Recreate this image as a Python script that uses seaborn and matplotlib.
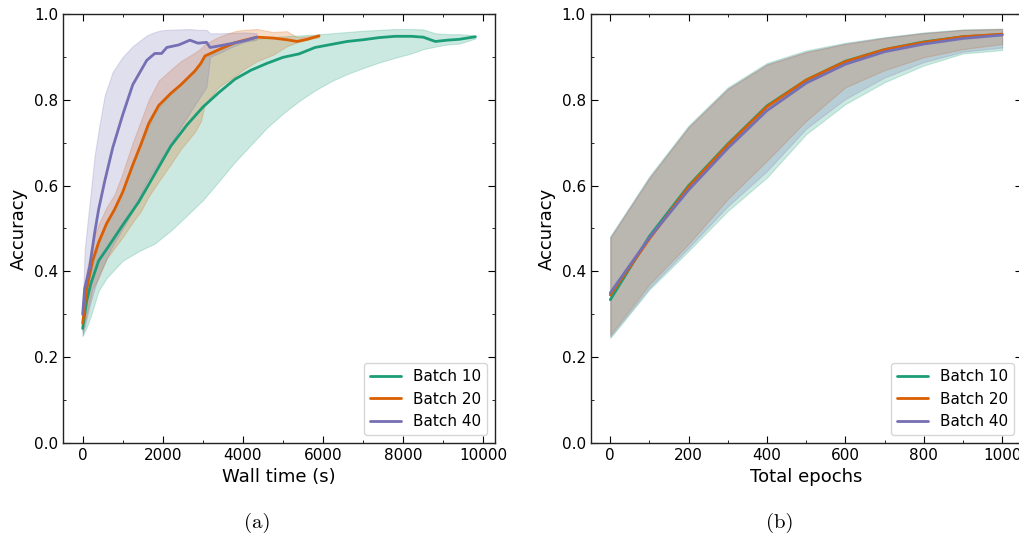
import numpy as np
import pandas as pd
import matplotlib
matplotlib.use("Agg")
import matplotlib.pyplot as plt
from matplotlib.ticker import MultipleLocator
import seaborn as sns

# ---------------- data: panel (a) wall time ----------------
t10 = [0, 100, 200, 400, 600, 1000, 1400, 1800, 2200, 2600, 3000, 3400, 3800, 4200, 4600,
       5000, 5400, 5800, 6200, 6600, 7000, 7400, 7800, 8200, 8500, 8800, 9100, 9400, 9800]
m10 = [0.267, 0.33, 0.37, 0.425, 0.452, 0.508, 0.562, 0.627, 0.692, 0.741, 0.783, 0.817, 0.848,
       0.869, 0.885, 0.899, 0.907, 0.922, 0.929, 0.936, 0.940, 0.945, 0.948, 0.948, 0.946, 0.936,
       0.939, 0.941, 0.947]
lo10 = [0.25, 0.27, 0.295, 0.355, 0.385, 0.425, 0.447, 0.465, 0.495, 0.53, 0.566, 0.61, 0.655,
        0.695, 0.735, 0.768, 0.797, 0.822, 0.843, 0.86, 0.874, 0.887, 0.898, 0.908, 0.918, 0.924,
        0.929, 0.931, 0.943]
hi10 = [0.285, 0.36, 0.40, 0.465, 0.515, 0.59, 0.685, 0.77, 0.815, 0.85, 0.895, 0.917, 0.933,
        0.94, 0.945, 0.948, 0.950, 0.952, 0.955, 0.958, 0.961, 0.963, 0.965, 0.965, 0.964, 0.955,
        0.953, 0.953, 0.950]

t20 = [0, 100, 250, 400, 600, 800, 1000, 1250, 1450, 1650, 1900, 2200, 2450, 2800, 2950, 3050,
       3400, 3800, 4000, 4350, 4750, 5100, 5350, 5600, 5900]
m20 = [0.279, 0.36, 0.425, 0.468, 0.512, 0.545, 0.585, 0.648, 0.695, 0.745, 0.787, 0.815, 0.835,
       0.867, 0.885, 0.902, 0.917, 0.933, 0.938, 0.946, 0.944, 0.940, 0.936, 0.941, 0.949]
lo20 = [0.26, 0.30, 0.36, 0.385, 0.43, 0.455, 0.48, 0.515, 0.54, 0.575, 0.61, 0.65, 0.685, 0.725,
        0.75, 0.79, 0.83, 0.855, 0.87, 0.89, 0.905, 0.925, 0.934, 0.94, 0.946]
hi20 = [0.30, 0.40, 0.47, 0.51, 0.55, 0.58, 0.63, 0.70, 0.75, 0.80, 0.845, 0.87, 0.89, 0.91,
        0.92, 0.93, 0.947, 0.96, 0.963, 0.965, 0.958, 0.96, 0.946, 0.948, 0.952]

t40 = [0, 50, 175, 300, 400, 550, 750, 1000, 1250, 1600, 1800, 1970, 2100, 2400, 2675, 2880,
       3090, 3180, 3430, 3760, 4050, 4340]
m40 = [0.30, 0.36, 0.41, 0.49, 0.545, 0.61, 0.688, 0.765, 0.835, 0.892, 0.908, 0.908, 0.922,
       0.928, 0.939, 0.932, 0.934, 0.922, 0.926, 0.932, 0.938, 0.946]
lo40 = [0.25, 0.27, 0.32, 0.36, 0.39, 0.42, 0.46, 0.50, 0.54, 0.61, 0.64, 0.665, 0.68, 0.73,
        0.77, 0.80, 0.83, 0.90, 0.91, 0.925, 0.935, 0.94]
hi40 = [0.31, 0.45, 0.56, 0.67, 0.73, 0.81, 0.865, 0.90, 0.925, 0.95, 0.958, 0.962, 0.963,
        0.964, 0.965, 0.963, 0.963, 0.955, 0.955, 0.956, 0.957, 0.955]

# ---------------- data: panel (b) total epochs ----------------
epochs = [0, 100, 200, 300, 400, 500, 600, 700, 800, 900, 1000]
e_m10 = [0.334, 0.482, 0.600, 0.697, 0.786, 0.846, 0.890, 0.917, 0.935, 0.947, 0.952]
e_m20 = [0.345, 0.476, 0.597, 0.695, 0.784, 0.846, 0.889, 0.917, 0.934, 0.947, 0.953]
e_m40 = [0.350, 0.479, 0.590, 0.687, 0.775, 0.839, 0.883, 0.912, 0.930, 0.943, 0.951]
e_hi10 = [0.482, 0.622, 0.740, 0.829, 0.886, 0.915, 0.933, 0.946, 0.957, 0.964, 0.966]
e_hi20 = [0.478, 0.617, 0.736, 0.825, 0.882, 0.911, 0.930, 0.944, 0.955, 0.963, 0.965]
e_hi40 = [0.480, 0.619, 0.737, 0.826, 0.883, 0.912, 0.931, 0.945, 0.956, 0.963, 0.965]
e_lo10 = [0.245, 0.358, 0.448, 0.541, 0.619, 0.720, 0.790, 0.841, 0.880, 0.908, 0.916]
e_lo20 = [0.252, 0.370, 0.464, 0.569, 0.658, 0.751, 0.829, 0.869, 0.899, 0.918, 0.930]
e_lo40 = [0.248, 0.362, 0.455, 0.552, 0.634, 0.733, 0.802, 0.852, 0.888, 0.912, 0.922]

labels = ["Batch 10", "Batch 20", "Batch 40"]

# ---------------- style ----------------
sns.set_style("ticks")
plt.rcParams.update({
    "font.family": ["DejaVu Sans"],
    "text.color": "black", "axes.labelcolor": "black",
    "xtick.color": "black", "ytick.color": "black",
    "xtick.direction": "in", "ytick.direction": "in",
    "xtick.top": True, "ytick.right": True,
    "xtick.minor.visible": True, "ytick.minor.visible": True,
    "xtick.major.size": 5, "ytick.major.size": 5,
    "xtick.minor.size": 2.5, "ytick.minor.size": 2.5,
    "xtick.labelsize": 11, "ytick.labelsize": 11,
    "axes.labelsize": 13,
    "axes.edgecolor": "#222222",
    "legend.fontsize": 11,
})
palette = sns.color_palette("Dark2", 3)

fig = plt.figure(figsize=(10.19, 5.41), dpi=100)
axA = fig.add_axes([63 / 1019, 98 / 541, 432 / 1019, 429 / 541])
axB = fig.add_axes([590.7 / 1019, 98 / 541, 431 / 1019, 429 / 541])

def build(ts, ms, los, his):
    frames = []
    for lab, t, m, lo, hi in zip(labels, ts, ms, los, his):
        frames.append(pd.DataFrame({"x": t, "acc": m, "lo": lo, "hi": hi, "batch": lab}))
    return pd.concat(frames, ignore_index=True)

dfA = build([t10, t20, t40], [m10, m20, m40], [lo10, lo20, lo40], [hi10, hi20, hi40])
dfB = build([epochs] * 3, [e_m10, e_m20, e_m40], [e_lo10, e_lo20, e_lo40], [e_hi10, e_hi20, e_hi40])

for ax, df, xlabel, xmaj, xmin in [(axA, dfA, "Wall time (s)", 2000, 1000),
                                    (axB, dfB, "Total epochs", 200, 100)]:
    for lab, col in zip(labels, palette):
        d = df[df["batch"] == lab]
        ax.fill_between(d["x"], d["lo"], d["hi"], color=col, alpha=0.22, linewidth=0.8)
    sns.lineplot(data=df, x="x", y="acc", hue="batch", palette=palette, ax=ax,
                 linewidth=2, estimator=None, sort=False)
    ax.set_ylim(0, 1.0)
    ax.xaxis.set_major_locator(MultipleLocator(xmaj))
    ax.xaxis.set_minor_locator(MultipleLocator(xmin))
    ax.yaxis.set_major_locator(MultipleLocator(0.2))
    ax.yaxis.set_minor_locator(MultipleLocator(0.1))
    ax.set_xlabel(xlabel)
    ax.set_ylabel("Accuracy")
    ax.legend(loc="lower right", title=None, handlelength=2.0)
    for s in ax.spines.values():
        s.set_linewidth(1.0)

axA.set_xlim(-490, 10290)
axB.set_xlim(-50, 1050)

fig.text(257 / 1019, 1 - 523 / 541, "(a)", family="cmr10", fontsize=15, ha="center", va="center")
fig.text(780 / 1019, 1 - 523 / 541, "(b)", family="cmr10", fontsize=15, ha="center", va="center")

fig.savefig("out.png", dpi=100)
